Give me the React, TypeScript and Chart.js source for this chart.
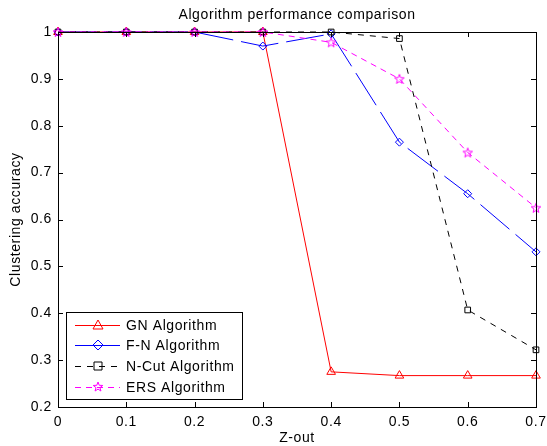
import React, { useEffect, useRef } from "react";
import { Chart, registerables } from "chart.js";

Chart.register(...registerables);

const zOut = [0, 0.1, 0.2, 0.3, 0.4, 0.5, 0.6, 0.7];
const gnValues = [1, 1, 1, 1, 0.275, 0.267, 0.267, 0.267];
const fnValues = [1, 1, 1, 0.97, 0.996, 0.765, 0.655, 0.531];
const nCutValues = [1, 1, 1, 1, 1, 0.986, 0.407, 0.322];
const ersValues = [1, 1, 1, 1, 0.978, 0.9, 0.743, 0.625];
const seriesNames = ["GN Algorithm", "F-N Algorithm", "N-Cut Algorithm", "ERS Algorithm"];
const xTickValues = [0, 0.1, 0.2, 0.3, 0.4, 0.5, 0.6, 0.7];
const yTickValues = [0.2, 0.3, 0.4, 0.5, 0.6, 0.7, 0.8, 0.9, 1];

const FONT = "Arial, 'Liberation Sans', sans-serif";
const SPACING = "0.6px";

function drawStar(ctx: CanvasRenderingContext2D, cx: number, cy: number, r: number, color: string) {
  const inner = r * 0.42;
  ctx.beginPath();
  for (let i = 0; i < 10; i++) {
    const rad = i % 2 === 0 ? r : inner;
    const a = -Math.PI / 2 + (i * Math.PI) / 5;
    const px = cx + rad * Math.cos(a);
    const py = cy + rad * Math.sin(a);
    if (i === 0) ctx.moveTo(px, py);
    else ctx.lineTo(px, py);
  }
  ctx.closePath();
  ctx.strokeStyle = color;
  ctx.lineWidth = 1;
  ctx.stroke();
}

function makeStarImage(color: string) {
  const c = document.createElement("canvas");
  c.width = 12;
  c.height = 12;
  const ctx = c.getContext("2d")!;
  drawStar(ctx, 6, 6.5, 5, color);
  return c;
}

function drawMarker(ctx: CanvasRenderingContext2D, style: string, x: number, y: number, color: string) {
  ctx.save();
  ctx.setLineDash([]);
  ctx.strokeStyle = color;
  ctx.lineWidth = 1;
  ctx.beginPath();
  if (style === "triangle") {
    ctx.moveTo(x, y - 5);
    ctx.lineTo(x + 5, y + 4);
    ctx.lineTo(x - 5, y + 4);
    ctx.closePath();
    ctx.stroke();
  } else if (style === "diamond") {
    ctx.moveTo(x, y - 5);
    ctx.lineTo(x + 5, y);
    ctx.lineTo(x, y + 5);
    ctx.lineTo(x - 5, y);
    ctx.closePath();
    ctx.stroke();
  } else if (style === "square") {
    ctx.rect(x - 4, y - 4, 8, 8);
    ctx.stroke();
  } else {
    drawStar(ctx, x, y, 5, color);
  }
  ctx.restore();
}

const frame = {
  id: "matlabFrame",
  beforeDraw(chart: any) {
    (chart.ctx as any).letterSpacing = SPACING;
  },
  afterDraw(chart: any) {
    const ctx: CanvasRenderingContext2D = chart.ctx;
    (ctx as any).letterSpacing = SPACING;
    const { left, right, top, bottom } = chart.chartArea;
    const xs = chart.scales.x;
    const ys = chart.scales.y;
    ctx.save();
    ctx.strokeStyle = "#000";
    ctx.lineWidth = 1;
    ctx.setLineDash([]);
    ctx.strokeRect(Math.round(left) + 0.5, Math.round(top) + 0.5, Math.round(right - left), Math.round(bottom - top));
    ctx.beginPath();
    xTickValues.forEach((v) => {
      const px = Math.round(xs.getPixelForValue(v)) + 0.5;
      ctx.moveTo(px, bottom);
      ctx.lineTo(px, bottom - 5);
      ctx.moveTo(px, top);
      ctx.lineTo(px, top + 5);
    });
    yTickValues.forEach((v) => {
      const py = Math.round(ys.getPixelForValue(v)) + 0.5;
      ctx.moveTo(left, py);
      ctx.lineTo(left + 5, py);
      ctx.moveTo(right, py);
      ctx.lineTo(right - 5, py);
    });
    ctx.stroke();

    // title and axis labels
    ctx.fillStyle = "#000";
    ctx.font = `14px ${FONT}`;
    ctx.textAlign = "center";
    ctx.textBaseline = "middle";
    const cx = (left + right) / 2;
    ctx.fillText("Algorithm performance comparison", cx, 15);
    ctx.fillText("Z-out", cx, 438);
    ctx.save();
    ctx.translate(16, (top + bottom) / 2);
    ctx.rotate(-Math.PI / 2);
    ctx.fillText("Clustering accuracy", 0, 0);
    ctx.restore();

    // legend
    const bx = 66.5, by = 312.5, bw = 176, bh = 87;
    ctx.fillStyle = "#fff";
    ctx.fillRect(bx, by, bw, bh);
    ctx.strokeStyle = "#000";
    ctx.strokeRect(bx, by, bw, bh);
    const rows = [325, 345, 366, 387];
    const colors = ["#ff0000", "#0000ff", "#000000", "#ff00ff"];
    const dashes = [[], [], [6, 6], [6, 5]];
    const markers = ["triangle", "diamond", "square", "star"];
    rows.forEach((ry, i) => {
      ctx.save();
      ctx.strokeStyle = colors[i];
      ctx.lineWidth = 1;
      ctx.setLineDash(dashes[i]);
      ctx.beginPath();
      ctx.moveTo(75, ry + 0.5);
      ctx.lineTo(120, ry + 0.5);
      ctx.stroke();
      ctx.restore();
      drawMarker(ctx, markers[i], 98, ry, colors[i]);
      ctx.fillStyle = "#000";
      ctx.textAlign = "left";
      ctx.textBaseline = "middle";
      ctx.font = `14px ${FONT}`;
      ctx.fillText(seriesNames[i], 126, ry + 1);
    });
    ctx.restore();
  },
};

export default function App() {
  const ref = useRef<HTMLCanvasElement | null>(null);
  useEffect(() => {
    document.body.style.margin = "0";
    const canvas = ref.current!;
    const pts = (vals: number[]) => zOut.map((x, i) => ({ x, y: vals[i] }));
    const chart = new Chart(canvas, {
      type: "line",
      data: {
        datasets: [
          {
            label: seriesNames[0],
            data: pts(gnValues),
            borderColor: "#ff0000",
            borderWidth: 1,
            pointStyle: "triangle",
            pointRadius: 5,
            pointBorderColor: "#ff0000",
            pointBackgroundColor: "rgba(0,0,0,0)",
            pointBorderWidth: 1,
            clip: false,
            order: 3,
          },
          {
            label: seriesNames[1],
            data: pts(fnValues),
            borderColor: "#0000ff",
            borderWidth: 1,
            borderDash: [38, 8],
            pointStyle: "rectRot",
            pointRadius: 4,
            pointBorderColor: "#0000ff",
            pointBackgroundColor: "rgba(0,0,0,0)",
            pointBorderWidth: 1,
            clip: false,
            order: 2,
          },
          {
            label: seriesNames[2],
            data: pts(nCutValues),
            borderColor: "#000000",
            borderWidth: 1,
            borderDash: [6, 6],
            pointStyle: "rect",
            pointRadius: 4,
            pointBorderColor: "#000000",
            pointBackgroundColor: "rgba(0,0,0,0)",
            pointBorderWidth: 1,
            clip: false,
            order: 1,
          },
          {
            label: seriesNames[3],
            data: pts(ersValues),
            borderColor: "#ff00ff",
            borderWidth: 1,
            borderDash: [6, 5],
            pointStyle: makeStarImage("#ff00ff") as any,
            pointRadius: 5,
            clip: false,
            order: 0,
          },
        ],
      } as any,
      options: {
        animation: false,
        responsive: false,
        maintainAspectRatio: false,
        layout: { padding: { top: 32, right: 11, left: 0, bottom: 0 } },
        plugins: { legend: { display: false }, title: { display: false }, tooltip: { enabled: false } },
        scales: {
          x: {
            type: "linear",
            min: 0,
            max: 0.7,
            afterFit: (s: any) => { s.height = 39; s.paddingLeft = 0; s.paddingRight = 0; },
            afterBuildTicks: (s: any) => { s.ticks = xTickValues.map((v) => ({ value: v })); },
            grid: { display: false, drawTicks: false },
            border: { display: false },
            ticks: {
              padding: 7,
              color: "#000",
              font: { family: FONT, size: 14 },
              callback: (v: any) => (Number(v) === 0 ? "0" : Number(v).toFixed(1)),
            },
          },
          y: {
            type: "linear",
            min: 0.2,
            max: 1,
            afterFit: (s: any) => { s.width = 58; s.paddingTop = 0; s.paddingBottom = 0; },
            afterBuildTicks: (s: any) => { s.ticks = yTickValues.map((v) => ({ value: v })); },
            grid: { display: false, drawTicks: false },
            border: { display: false },
            ticks: {
              padding: 6,
              color: "#000",
              font: { family: FONT, size: 14 },
              callback: (v: any) => (Number(v) === 1 ? "1" : Number(v).toFixed(1)),
            },
          },
        },
      } as any,
      plugins: [frame],
    });
    return () => chart.destroy();
  }, []);
  return <canvas ref={ref} width={547} height={446} style={{ display: "block" }} />;
}
